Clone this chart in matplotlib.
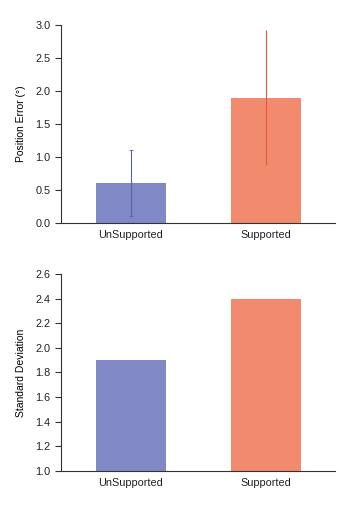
import numpy as np
import matplotlib.pyplot as plt

# data
groups = ['UnSupported', 'Supported']
pos_error = [0.6, 1.9]
pos_error_err = [0.5, 1.02]
std_dev = [1.9, 2.4]

bar_colors = ['#8088c6', '#f28b6e']
err_colors = ['#5a62a8', '#e05a40']
err_caps = [1.5, 0]

plt.rcParams['font.family'] = ['Liberation Sans', 'DejaVu Sans']

fig = plt.figure(figsize=(3.39, 5.11), dpi=100)
ax1 = fig.add_axes([0.18, 0.5636, 0.808, 0.3874])
ax2 = fig.add_axes([0.18, 0.0783, 0.808, 0.3855])

x = np.arange(len(groups))

# top panel: position error with error bars
ax1.bar(x, pos_error, width=0.517, color=bar_colors)
for i in range(len(groups)):
    ax1.errorbar(x[i], pos_error[i], yerr=pos_error_err[i], color=err_colors[i],
                 elinewidth=0.8, capsize=err_caps[i], capthick=0.6)
ax1.set_ylim(0, 3.0)
ax1.set_yticks(np.arange(0, 3.01, 0.5))
ax1.set_ylabel('Position Error (°)', fontsize=7.5, labelpad=7)

# bottom panel: standard deviation
ax2.bar(x, std_dev, width=0.517, color=bar_colors)
ax2.set_ylim(1.0, 2.6)
ax2.set_yticks(np.arange(1.0, 2.61, 0.2))
ax2.set_ylabel('Standard Deviation', fontsize=7.5, labelpad=7)

for ax in (ax1, ax2):
    ax.set_xlim(-0.516, 1.508)
    ax.set_xticks(x)
    ax.set_xticklabels(groups, fontsize=7.8, color='#222222')
    ax.tick_params(axis='x', length=0, pad=5)
    ax.tick_params(axis='y', labelsize=7.8, length=4, width=0.8, direction='out',
                   labelcolor='#222222', color='#333333')
    ax.yaxis.set_major_formatter(plt.FormatStrFormatter('%.1f'))
    ax.spines['top'].set_visible(False)
    ax.spines['right'].set_visible(False)
    ax.spines['left'].set_linewidth(0.8)
    ax.spines['bottom'].set_linewidth(0.8)
    ax.spines['left'].set_color('#333333')
    ax.spines['bottom'].set_color('#333333')

fig.savefig('out.png', dpi=100)
